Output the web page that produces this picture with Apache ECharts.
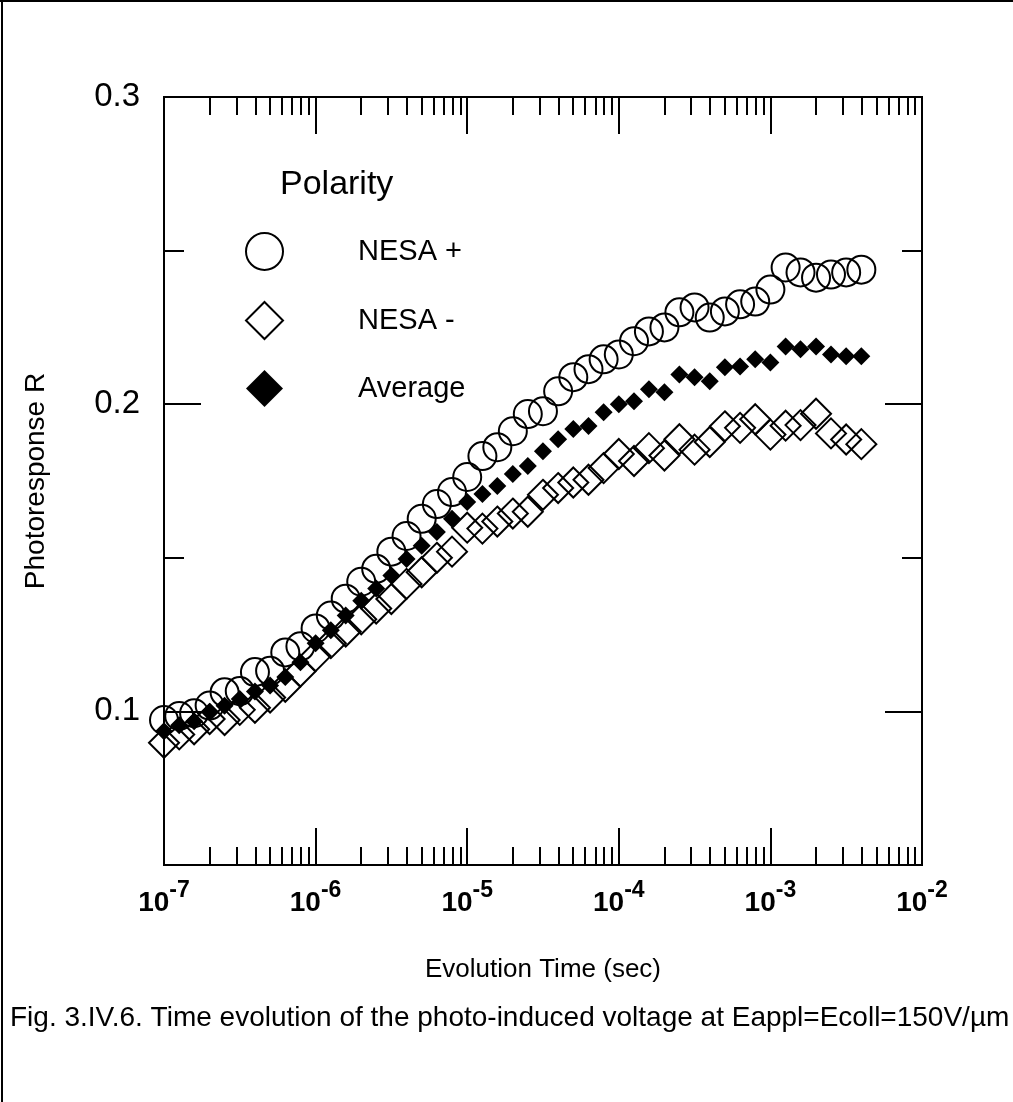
<!DOCTYPE html>
<html><head><meta charset="utf-8">
<script src="https://cdn.jsdelivr.net/npm/echarts@6.0.0/dist/echarts.min.js"></script>
<style>html,body{margin:0;padding:0;background:#fff}#c{width:1013px;height:1102px}</style>
</head><body><div id="c"></div>
<script>
// Evolution time (s), ten samples per decade
const times = [
  1.00e-7,1.26e-7,1.58e-7,2.00e-7,2.51e-7,3.16e-7,3.98e-7,5.01e-7,6.31e-7,7.94e-7,
  1.00e-6,1.26e-6,1.58e-6,2.00e-6,2.51e-6,3.16e-6,3.98e-6,5.01e-6,6.31e-6,7.94e-6,
  1.00e-5,1.26e-5,1.58e-5,2.00e-5,2.51e-5,3.16e-5,3.98e-5,5.01e-5,6.31e-5,7.94e-5,
  1.00e-4,1.26e-4,1.58e-4,2.00e-4,2.51e-4,3.16e-4,3.98e-4,5.01e-4,6.31e-4,7.94e-4,
  1.00e-3,1.26e-3,1.58e-3,2.00e-3,2.51e-3,3.16e-3,3.98e-3
];
const nesaPlus = [
  0.0972,0.0985,0.0994,0.1019,0.1062,0.1066,0.1128,0.1132,0.1192,0.1212,
  0.1270,0.1312,0.1367,0.1422,0.1464,0.1520,0.1571,0.1627,0.1675,0.1714,
  0.1763,0.1831,0.1860,0.1912,0.1968,0.1977,0.2042,0.2088,0.2114,0.2146,
  0.2162,0.2205,0.2237,0.2250,0.2299,0.2315,0.2282,0.2302,0.2325,0.2334,
  0.2373,0.2445,0.2429,0.2412,0.2422,0.2429,0.2438
];
const nesaMinus = [
  0.0898,0.0925,0.0942,0.0975,0.0972,0.1005,0.1012,0.1045,0.1080,0.1130,
  0.1180,0.1222,0.1260,0.1300,0.1335,0.1366,0.1415,0.1453,0.1500,0.1520,
  0.1598,0.1595,0.1618,0.1644,0.1650,0.1705,0.1727,0.1745,0.1754,0.1792,
  0.1838,0.1815,0.1857,0.1833,0.1886,0.1852,0.1877,0.1928,0.1923,0.1951,
  0.1901,0.1930,0.1932,0.1969,0.1905,0.1885,0.1870
];
const average = [
  0.0935,0.0955,0.0968,0.0998,0.1018,0.1040,0.1065,0.1084,0.1112,0.1160,
  0.1222,0.1264,0.1312,0.1360,0.1400,0.1442,0.1496,0.1539,0.1584,0.1627,
  0.1682,0.1708,0.1734,0.1773,0.1799,0.1847,0.1886,0.1919,0.1929,0.1974,
  0.2000,0.2010,0.2049,0.2039,0.2097,0.2088,0.2075,0.2120,0.2123,0.2146,
  0.2136,0.2188,0.2179,0.2188,0.2162,0.2156,0.2156
];
const xMajorTicks = [1e-7,1e-6,1e-5,1e-4,1e-3,1e-2];
const xTickExponents = ['-7','-6','-5','-4','-3','-2'];
const xMinorMantissas = [2,3,4,5,6,7,8,9];
const xMinorDecades = [1e-7,1e-6,1e-5,1e-4,1e-3];
const yMajorTicks = [0.1,0.2,0.3];
const yTickLabels = ['0.1','0.2','0.3'];
const yMinorTicks = [0.15,0.25];

const xMinorTicks = [];
xMinorDecades.forEach(d => xMinorMantissas.forEach(m => xMinorTicks.push(m * d)));

const FONT = 'Liberation Sans, Arial, Helvetica, sans-serif';
const BLACK = '#000';

function xAxisDef(position, ticks, len, labels) {
  return {
    type: 'log', logBase: 10, min: 1e-7, max: 1e-2, position: position,
    axisLine: { show: false },
    splitLine: { show: false },
    minorTick: { show: false },
    axisTick: { show: true, inside: true, length: len, customValues: ticks,
      lineStyle: { color: BLACK, width: 2 } },
    axisLabel: labels ? {
      show: true, margin: 14, customValues: xMajorTicks,
      formatter: v => {
        const i = xMajorTicks.findIndex(t => Math.abs(Math.log10(t) - Math.log10(v)) < 1e-6);
        return '{b|10}{s|' + (i >= 0 ? xTickExponents[i] : '') + '}';
      },
      rich: {
        b: { fontSize: 28, fontWeight: 'bold', fontFamily: FONT, color: BLACK, verticalAlign: 'bottom', lineHeight: 38 },
        s: { fontSize: 23, fontWeight: 'bold', fontFamily: FONT, color: BLACK, verticalAlign: 'top', lineHeight: 38 }
      }
    } : { show: false }
  };
}
function yAxisDef(position, ticks, len, labels) {
  return {
    type: 'value', min: 0.05, max: 0.3, position: position,
    axisLine: { show: false },
    splitLine: { show: false },
    axisTick: { show: true, inside: true, length: len, customValues: ticks,
      lineStyle: { color: BLACK, width: 2 } },
    axisLabel: labels ? {
      show: true, margin: 24, customValues: yMajorTicks,
      formatter: v => yTickLabels[yMajorTicks.findIndex(t => Math.abs(t - v) < 1e-9)] || '',
      fontSize: 33, fontFamily: FONT, color: BLACK
    } : { show: false }
  };
}

const xAxes = [
  xAxisDef('bottom', xMajorTicks, 37, true),
  xAxisDef('bottom', xMinorTicks, 18, false),
  xAxisDef('top', xMajorTicks, 37, false),
  xAxisDef('top', xMinorTicks, 18, false)
];
Object.assign(xAxes[0], {
  name: 'Evolution Time (sec)', nameLocation: 'middle', nameGap: 92,
  nameTextStyle: { fontSize: 26, fontFamily: FONT, color: BLACK }
});
const yAxes = [
  yAxisDef('left', yMajorTicks, 37, true),
  yAxisDef('left', yMinorTicks, 20, false),
  yAxisDef('right', yMajorTicks, 37, false),
  yAxisDef('right', yMinorTicks, 20, false)
];
Object.assign(yAxes[0], {
  name: 'Photoresponse R', nameLocation: 'middle', nameGap: 114,
  nameTextStyle: { fontSize: 28, fontFamily: FONT, color: BLACK }
});

const hollow = { color: 'rgba(0,0,0,0)', borderColor: BLACK, borderWidth: 2, opacity: 1 };

const chart = echarts.init(document.getElementById('c'), null, { renderer: 'canvas' });
chart.setOption({
  backgroundColor: '#fff',
  animation: false,
  grid: { left: 164, top: 97, width: 758, height: 768, show: true,
    borderColor: BLACK, borderWidth: 2, backgroundColor: 'transparent' },
  title: { text: 'Polarity', left: 280, top: 168, padding: 0,
    textStyle: { fontSize: 34, fontWeight: 'normal', fontFamily: FONT, color: BLACK } },
  legend: {
    orient: 'vertical', left: 245, top: 232, itemWidth: 37, itemHeight: 37, itemGap: 30,
    padding: 0, selectedMode: false,
    textStyle: { fontSize: 29, fontFamily: FONT, color: BLACK, padding: [0, 0, 0, 70] },
    data: [
      { name: 'NESA +', icon: 'circle', itemStyle: hollow },
      { name: 'NESA -', icon: 'diamond', itemStyle: hollow },
      { name: 'Average', icon: 'diamond', itemStyle: { color: BLACK, borderWidth: 0, opacity: 1 } }
    ]
  },
  xAxis: xAxes,
  yAxis: yAxes,
  series: [
    { name: 'NESA +', type: 'scatter', symbol: 'circle', symbolSize: 28,
      itemStyle: hollow, data: times.map((t, i) => [t, nesaPlus[i]]) },
    { name: 'NESA -', type: 'scatter', symbol: 'diamond', symbolSize: 30,
      itemStyle: hollow, data: times.map((t, i) => [t, nesaMinus[i]]) },
    { name: 'Average', type: 'scatter', symbol: 'diamond', symbolSize: 18,
      itemStyle: { color: BLACK, opacity: 1 }, data: times.map((t, i) => [t, average[i]]) }
  ],
  graphic: [
    { type: 'line', shape: { x1: 0, y1: 1, x2: 1013, y2: 1 }, style: { stroke: BLACK, lineWidth: 2 } },
    { type: 'line', shape: { x1: 2, y1: 0, x2: 2, y2: 1102 }, style: { stroke: BLACK, lineWidth: 2 } },
    { type: 'text', left: 10, top: 1004,
      style: { text: 'Fig. 3.IV.6. Time evolution of the photo-induced voltage at Eappl=Ecoll=150V/\u00b5m',
        fontSize: 28, fontFamily: FONT, fill: BLACK } }
  ]
});
</script>
</body></html>
